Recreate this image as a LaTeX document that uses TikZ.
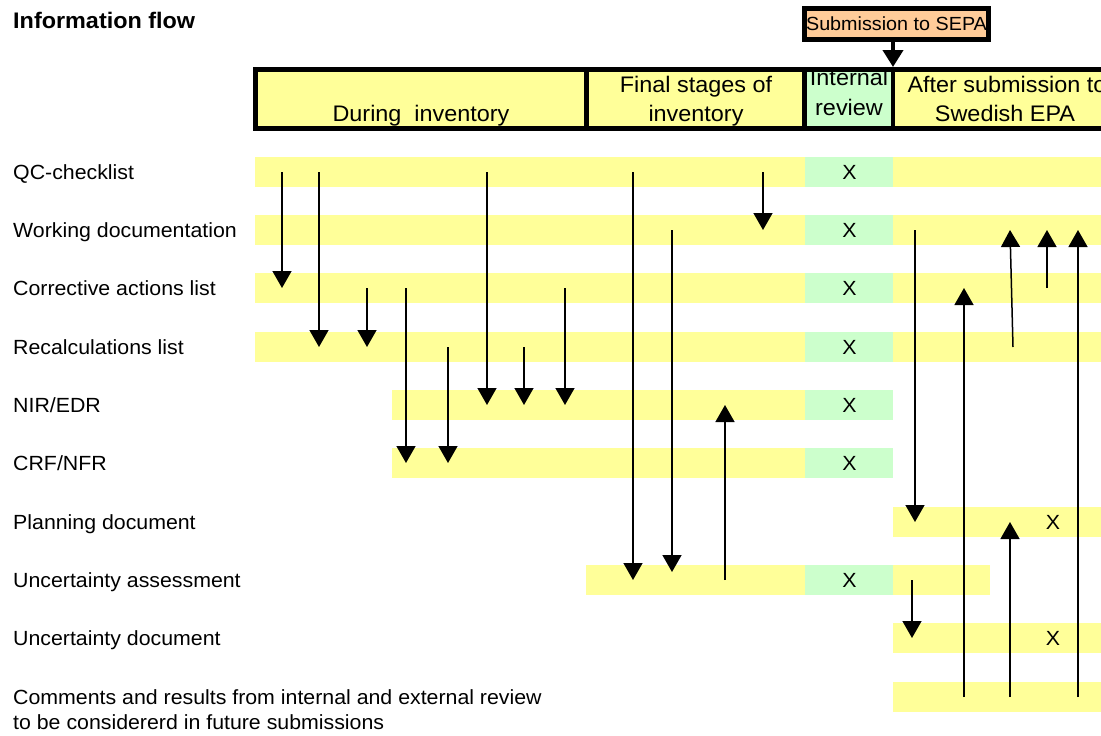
\documentclass[tikz,border=0pt]{standalone}
\usepackage{fontspec}
\setmainfont{Liberation Sans}[FakeStretch=1.04]
\usepackage{xcolor}
\usetikzlibrary{positioning,arrows.meta}
\definecolor{bandyellow}{RGB}{255,255,153}
\definecolor{revgreen}{RGB}{204,255,204}
\definecolor{subpeach}{RGB}{255,204,153}
\newcommand{\lblfont}{\fontsize{20.5}{25}\selectfont}
\newcommand{\hdrfont}{\fontsize{22.5}{29}\selectfont}

\begin{document}
\begin{tikzpicture}[
    x=1pt, y=-1pt,
    lbl/.style={anchor=base west, inner sep=0pt, font=\lblfont},
    hdr/.style={anchor=base, inner sep=0pt, font=\hdrfont},
    xcell/.style={anchor=base, inner sep=0pt, font=\lblfont},
    band/.style={fill=bandyellow},
    rev/.style={fill=revgreen},
    hdrframe/.style={draw, line width=4.5pt},
    flow/.style={draw, -{Triangle[width=19pt,length=17pt]}, line width=1.5pt}
]
    \useasboundingbox (0,0) rectangle (1101,736);

    % Rows
    \coordinate (qc) at (0,172);
    \coordinate (work) at (0,230);
    \coordinate (corr) at (0,288);
    \coordinate (recalc) at (0,347);
    \coordinate (nir) at (0,405);
    \coordinate (crf) at (0,463);
    \coordinate (plan) at (0,522);
    \coordinate (uass) at (0,580);
    \coordinate (udoc) at (0,638);
    \coordinate (comm) at (0,697);

    % Bands
    \foreach \y in {172,230,288,347} {
        \fill[band] (255,\y-15) rectangle (805,\y+15);
        \fill[rev] (805,\y-15) rectangle (893,\y+15);
        \fill[band] (893,\y-15) rectangle (1101,\y+15);
    }
    \foreach \y in {405,463} {
        \fill[band] (392,\y-15) rectangle (805,\y+15);
        \fill[rev] (805,\y-15) rectangle (893,\y+15);
    }
    \fill[band] (893,507) rectangle (1101,537);
    \fill[band] (586,565) rectangle (805,595);
    \fill[rev] (805,565) rectangle (893,595);
    \fill[band] (893,565) rectangle (990,595);
    \fill[band] (893,623) rectangle (1101,653);
    \fill[band] (893,682) rectangle (1101,712);

    % Marks
    \foreach \y in {172,230,288,347,405,463,580}
        \node[xcell] (x\y) at (849.5,\y+7) {X};
    \node[xcell] (xplan) at (1053,529) {X};
    \node[xcell] (xudoc) at (1053,645) {X};

    % Labels
    \node[anchor=base west, inner sep=0pt, font=\bfseries\fontsize{22.5}{27}\selectfont] (title) at (13,28) {Information flow};
    \node[lbl] (lqc) at (13,179) {QC-checklist};
    \node[lbl] (lwork) at (13,237) {Working documentation};
    \node[lbl] (lcorr) at (13,295) {Corrective actions list};
    \node[lbl] (lrecalc) at (13,354) {Recalculations list};
    \node[lbl] (lnir) at (13,412) {NIR/EDR};
    \node[lbl] (lcrf) at (13,470) {CRF/NFR};
    \node[lbl] (lplan) at (13,529) {Planning document};
    \node[lbl] (luass) at (13,587) {Uncertainty assessment};
    \node[lbl] (ludoc) at (13,645) {Uncertainty document};
    \node[lbl] (lcomm) at (13,704) {Comments and results from internal and external review};
    \node[lbl] (lcomm2) at (13,729) {to be considererd in future submissions};

    % Header
    \fill[band] (255.5,69.5) rectangle (1115,128.5);
    \fill[rev] (804.5,69.5) rectangle (893,128.5);
    \node[hdr] (hdur) at (421,121) {During~ inventory};
    \node[hdr] (hfin) at (696,92) {Final stages of};
    \node[hdr] (hfin2) at (696,121) {inventory};
    \node[hdr] (hint) at (849,85) {Internal};
    \node[hdr] (hint2) at (849,115) {review};
    \node[hdr] (haft) at (1007,92) {After submission to};
    \node[hdr] (haft2) at (1005,121) {Swedish EPA};
    \draw[hdrframe] (255.5,69.5) rectangle (1115,128.5);
    \draw[hdrframe] (586.5,69.5) -- (586.5,128.5);
    \draw[hdrframe] (804.5,69.5) -- (804.5,128.5);
    \draw[hdrframe] (893,69.5) -- (893,128.5);

    \node[draw, line width=4.5pt, fill=subpeach, minimum width=184pt, minimum height=31pt, inner sep=0pt,
          font=\fontsize{19}{22}\selectfont] (sub) at (896.5,24) {Submission to SEPA};
    \coordinate (hdrtop) at (893,67);
    \draw[line width=4pt, -{Triangle[width=20pt,length=17pt]}] (sub.south -| hdrtop) -- (hdrtop);

    % Connections
    \draw[flow] (282,0 |- qc) -- (282,0 |- corr);
    \draw[flow] (319,0 |- qc) -- (319,0 |- recalc);
    \draw[flow] (367,0 |- corr) -- (367,0 |- recalc);
    \draw[flow] (406,0 |- corr) -- (406,0 |- crf);
    \draw[flow] (448,0 |- recalc) -- (448,0 |- crf);
    \draw[flow] (487,0 |- qc) -- (487,0 |- nir);
    \draw[flow] (524,0 |- recalc) -- (524,0 |- nir);
    \draw[flow] (565,0 |- corr) -- (565,0 |- nir);
    \draw[flow] (633,0 |- qc) -- (633,0 |- uass);
    \draw[flow, shorten >=8pt] (672,0 |- work) -- (672,0 |- uass);
    \draw[flow] (763,0 |- qc) -- (763,0 |- work);
    \draw[flow] (725,0 |- uass) -- (725,0 |- nir);
    \draw[flow] (915,0 |- work) -- (915,0 |- plan);
    \draw[flow] (912,0 |- uass) -- (912,0 |- udoc);
    \draw[flow] (964,0 |- comm) -- (964,0 |- corr);
    \draw[flow] (1013,0 |- recalc) -- (1010,0 |- work);
    \draw[flow] (1047,0 |- corr) -- (1047,0 |- work);
    \draw[flow] (1078,0 |- comm) -- (1078,0 |- work);
    \draw[flow] (1010,0 |- comm) -- (1010,0 |- plan);
\end{tikzpicture}
\end{document}
